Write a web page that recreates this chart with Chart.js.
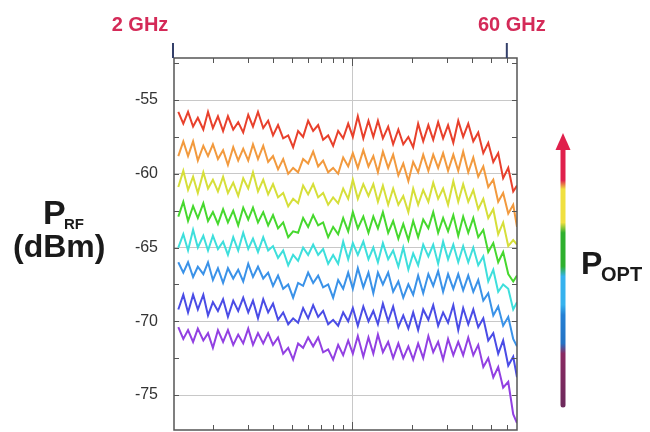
<!DOCTYPE html>
<html>
<head>
<meta charset="utf-8">
<script src="https://cdn.jsdelivr.net/npm/chart.js@4/dist/chart.umd.min.js"></script>
<style>
  body { margin: 0; background: #fff; }
</style>
</head>
<body>
<canvas id="rfChart" width="650" height="432"></canvas>
<script>
// frequency points (GHz), log spaced
const freqGHz = [1.34, 1.42, 1.50, 1.59, 1.68, 1.79, 1.89, 2.00, 2.12, 2.25, 2.38, 2.53, 2.68, 2.84, 3.01,
  3.18, 3.37, 3.58, 3.79, 4.01, 4.25, 4.51, 4.78, 5.06, 5.36, 5.68, 6.02, 6.38, 6.76, 7.16,
  7.59, 8.04, 8.52, 9.03, 9.57, 10.1, 10.7, 11.4, 12.1, 12.8, 13.5, 14.3, 15.2, 16.1, 17.1,
  18.1, 19.2, 20.3, 21.5, 22.8, 24.2, 25.6, 27.1, 28.7, 30.4, 32.3, 34.2, 36.2, 38.4, 40.7,
  43.1, 45.7, 48.4, 51.3, 54.3, 57.5, 61.0, 64.6, 67.5];

// P_RF (dBm) for each optical power, highest first
const rfRed = [-55.8, -56.6, -55.8, -56.8, -56.2, -57.0, -55.8, -56.9, -56.1, -57.1, -56.1, -57.0, -56.5, -57.2, -56.0,
  -56.8, -55.8, -56.9, -56.4, -57.4, -56.7, -57.6, -57.4, -58.2, -57.1, -57.5, -56.4, -57.1, -56.7, -57.7,
  -57.4, -58.1, -57.1, -57.6, -56.6, -57.5, -56.1, -57.6, -56.4, -57.5, -56.4, -57.6, -56.8, -58.0, -57.0,
  -58.0, -57.5, -58.2, -56.6, -57.8, -56.7, -57.7, -56.5, -57.6, -56.7, -57.9, -56.4, -57.5, -56.6, -57.8,
  -57.2, -58.6, -57.9, -59.2, -58.6, -60.3, -59.6, -61.2, -60.8];
const rfOrange = [-58.8, -57.8, -58.8, -57.8, -59.1, -58.1, -58.8, -58.0, -59.0, -58.4, -59.4, -58.2, -59.1, -58.3, -59.1,
  -58.0, -59.0, -58.1, -59.2, -58.8, -59.7, -59.0, -60.0, -59.6, -59.9, -59.0, -59.3, -58.5, -59.5, -59.1,
  -59.9, -59.6, -60.0, -58.9, -59.5, -58.6, -59.6, -58.4, -59.5, -58.8, -59.9, -58.5, -59.6, -58.7, -60.1,
  -59.3, -60.5, -59.2, -59.9, -58.7, -59.8, -58.7, -59.6, -58.6, -59.8, -58.7, -59.8, -58.5, -59.9, -58.9,
  -60.2, -59.5, -60.9, -60.4, -61.9, -61.3, -62.7, -62.1, -63.6];
const rfYellow = [-60.9, -59.8, -61.1, -60.2, -61.3, -59.9, -61.0, -60.4, -61.2, -60.2, -61.3, -60.6, -61.5, -60.3, -61.0,
  -59.9, -61.2, -60.4, -61.4, -60.7, -61.6, -61.3, -62.2, -61.7, -62.0, -60.8, -61.4, -60.7, -61.6, -61.3,
  -62.1, -61.6, -62.0, -61.0, -61.7, -60.4, -61.7, -60.7, -61.5, -60.7, -61.9, -60.8, -62.1, -61.0, -62.1,
  -61.5, -62.6, -61.0, -62.1, -61.1, -61.9, -60.6, -61.7, -61.0, -62.1, -60.5, -61.9, -60.7, -61.9, -61.1,
  -62.4, -61.7, -63.0, -62.4, -64.1, -63.3, -64.9, -64.5, -64.8];
const rfGreen = [-62.9, -61.9, -63.2, -62.2, -63.0, -62.0, -63.2, -62.6, -63.4, -62.4, -63.3, -62.5, -63.5, -62.3, -63.1,
  -62.3, -63.3, -62.6, -63.5, -62.8, -63.7, -63.3, -64.3, -63.9, -64.0, -63.0, -63.6, -62.8, -63.5, -63.3,
  -64.3, -63.6, -64.1, -63.0, -63.9, -62.6, -63.7, -62.9, -64.0, -62.9, -63.7, -62.6, -64.0, -63.2, -64.4,
  -63.4, -64.5, -63.2, -64.3, -63.1, -63.7, -62.6, -64.0, -63.0, -63.9, -62.8, -64.2, -62.9, -64.0, -63.0,
  -64.3, -63.8, -65.3, -64.7, -66.0, -65.3, -66.8, -67.3, -66.9];
const rfCyan = [-65.0, -64.1, -65.2, -63.8, -65.0, -64.2, -65.2, -64.2, -65.1, -64.6, -65.5, -64.3, -65.2, -64.0, -65.1,
  -64.4, -65.3, -64.3, -65.2, -64.9, -65.7, -65.2, -66.2, -65.5, -65.9, -65.0, -65.5, -64.8, -65.5, -65.1,
  -66.1, -65.5, -66.1, -64.6, -65.8, -64.7, -65.5, -64.6, -65.8, -65.0, -66.0, -64.7, -65.8, -65.2, -66.3,
  -65.0, -66.5, -65.4, -66.2, -64.8, -65.6, -64.8, -66.1, -64.6, -65.8, -64.8, -66.0, -64.9, -66.0, -65.0,
  -66.2, -65.6, -67.3, -66.5, -68.0, -67.5, -67.8, -69.2, -68.7];
const rfBlue = [-66.0, -66.7, -66.0, -67.0, -66.3, -66.8, -66.0, -67.2, -66.4, -67.4, -66.4, -67.1, -66.5, -67.3, -66.1,
  -67.0, -66.3, -67.1, -66.7, -67.6, -66.9, -67.8, -67.5, -68.4, -67.4, -67.6, -66.7, -67.4, -66.9, -67.7,
  -67.5, -68.4, -67.2, -67.8, -66.7, -67.8, -66.4, -67.7, -66.7, -68.1, -66.7, -67.5, -66.7, -68.0, -67.3,
  -68.4, -67.5, -68.2, -66.9, -68.1, -66.8, -67.6, -66.6, -68.0, -66.8, -67.8, -66.8, -67.9, -66.9, -68.0,
  -67.2, -68.6, -68.1, -69.6, -69.0, -70.3, -69.7, -71.2, -71.7];
const rfIndigo = [-69.2, -68.2, -69.4, -68.2, -69.2, -68.2, -69.6, -68.7, -69.3, -68.5, -69.7, -68.6, -69.3, -68.4, -69.4,
  -68.6, -69.8, -68.5, -69.4, -68.8, -69.9, -69.4, -70.2, -69.8, -70.1, -69.1, -69.8, -68.9, -69.7, -69.3,
  -70.2, -69.9, -70.3, -69.4, -70.0, -69.1, -70.3, -69.0, -70.0, -69.3, -70.2, -68.8, -70.0, -69.0, -70.4,
  -69.6, -70.5, -69.4, -70.6, -69.2, -69.9, -68.9, -70.3, -69.4, -70.1, -68.9, -70.6, -69.1, -70.2, -69.2,
  -70.4, -69.8, -71.3, -70.8, -72.2, -71.3, -73.0, -72.4, -73.8];
const rfPurple = [-70.4, -71.2, -70.6, -71.4, -70.5, -71.3, -70.8, -71.8, -70.6, -71.4, -70.6, -71.6, -70.9, -71.5, -70.5,
  -71.6, -70.8, -71.5, -70.8, -71.6, -71.1, -72.2, -71.8, -72.6, -71.5, -71.8, -71.1, -71.7, -71.1, -72.1,
  -71.9, -72.6, -71.6, -72.3, -71.3, -72.2, -71.0, -72.4, -71.1, -72.2, -70.9, -72.1, -71.4, -72.5, -71.5,
  -72.5, -71.7, -72.6, -71.5, -72.5, -71.0, -72.1, -71.4, -72.6, -71.2, -72.3, -71.4, -72.3, -71.1, -72.3,
  -71.6, -73.1, -72.5, -73.8, -73.1, -74.5, -74.1, -76.3, -76.9];

const traceColors = ['#e8402c', '#f29a3e', '#d6df3a', '#46d82e', '#3edfdc', '#3a92e8', '#4a4ce6', '#9240e2'];
const traces = [rfRed, rfOrange, rfYellow, rfGreen, rfCyan, rfBlue, rfIndigo, rfPurple];

const yTicks = [-75, -70, -65, -60, -55];
const yMinorTicks = [-75, -72.5, -70, -67.5, -65, -62.5, -60, -57.5, -55, -52.5];
const xGridTicks = [10];
const xMinorTicks = [2, 3, 4, 5, 6, 7, 8, 9, 10, 20, 30, 40, 50, 60];

const txtFont = 'Liberation Sans, Arial, sans-serif';

const seg = (ctx, x1, y1, x2, y2) => { ctx.beginPath(); ctx.moveTo(x1, y1); ctx.lineTo(x2, y2); ctx.stroke(); };

const framePlugin = {
  id: 'frame',
  beforeDatasetsDraw(chart) {
    // vertical grid line(s) of the log frequency axis
    const { ctx, chartArea: a, scales: { x } } = chart;
    ctx.save();
    ctx.strokeStyle = '#c8c8c8';
    ctx.lineWidth = 1;
    xGridTicks.forEach(v => {
      const px = Math.round(x.getPixelForValue(v)) + 0.5;
      seg(ctx, px, a.top, px, a.bottom);
    });
    ctx.restore();
  },
  afterDraw(chart) {
    const { ctx, chartArea: a, scales: { x, y } } = chart;
    ctx.save();

    // inward tick marks
    ctx.strokeStyle = '#555';
    ctx.lineWidth = 1;
    xMinorTicks.forEach(v => {
      const px = Math.round(x.getPixelForValue(v)) + 0.5;
      const len = v === 10 ? 8 : 5;
      seg(ctx, px, a.top, px, a.top + len);
      seg(ctx, px, a.bottom, px, a.bottom - len);
    });
    yMinorTicks.forEach(v => {
      const py = Math.round(y.getPixelForValue(v)) + 0.5;
      seg(ctx, a.left, py, a.left + 5, py);
      seg(ctx, a.right, py, a.right - 5, py);
    });

    // frame
    ctx.strokeStyle = '#555';
    ctx.lineWidth = 1.5;
    ctx.strokeRect(a.left, a.top, a.right - a.left, a.bottom - a.top);

    // 2 GHz / 60 GHz markers
    ctx.strokeStyle = '#34406a';
    ctx.lineWidth = 2;
    const x2 = a.left - 1;
    const x60 = x.getPixelForValue(60);
    seg(ctx, x2, a.top - 15, x2, a.top);
    seg(ctx, x60, a.top - 15, x60, a.top);
    ctx.fillStyle = '#d42a58';
    ctx.font = 'bold 20px ' + txtFont;
    ctx.textAlign = 'center';
    ctx.textBaseline = 'alphabetic';
    ctx.fillText('2 GHz', x2 - 33, 31);
    ctx.fillText('60 GHz', x60 + 5, 31);

    // y title
    ctx.fillStyle = '#1a1a1a';
    ctx.textAlign = 'left';
    ctx.font = 'bold 34px ' + txtFont;
    ctx.fillText('P', 43, 224);
    ctx.font = 'bold 15px ' + txtFont;
    ctx.fillText('RF', 64, 229);
    ctx.font = 'bold 32px ' + txtFont;
    ctx.fillText('(dBm)', 13, 257);

    // optical power arrow
    const bx = 563, bTop = 148, bBot = 405;
    const g = ctx.createLinearGradient(0, bBot, 0, bTop);
    g.addColorStop(0, '#6e2a5c');
    g.addColorStop(0.20, '#8a2a62');
    g.addColorStop(0.24, '#2472c4');
    g.addColorStop(0.35, '#2480d4');
    g.addColorStop(0.39, '#36b2ee');
    g.addColorStop(0.50, '#36b2ee');
    g.addColorStop(0.54, '#2eb02e');
    g.addColorStop(0.67, '#2eb02e');
    g.addColorStop(0.71, '#f0e040');
    g.addColorStop(0.84, '#f0e040');
    g.addColorStop(0.875, '#e0204c');
    g.addColorStop(1, '#e0204c');
    ctx.strokeStyle = g;
    ctx.lineWidth = 5;
    ctx.lineCap = 'round';
    seg(ctx, bx, bBot, bx, bTop);
    ctx.fillStyle = '#e0204c';
    ctx.beginPath();
    ctx.moveTo(bx, 133);
    ctx.lineTo(bx - 7.5, 150);
    ctx.lineTo(bx + 7.5, 150);
    ctx.closePath();
    ctx.fill();

    ctx.fillStyle = '#1a1a1a';
    ctx.font = 'bold 32px ' + txtFont;
    ctx.fillText('P', 581, 274);
    ctx.font = 'bold 20px ' + txtFont;
    ctx.fillText('OPT', 601, 281);
    ctx.restore();
  }
};

const canvasElement = document.getElementById('rfChart');
const config = {
  type: 'line',
  data: {
    datasets: traces.map((t, k) => ({
      data: t.map((v, i) => ({ x: freqGHz[i], y: v })),
      borderColor: traceColors[k],
      borderWidth: 2,
      pointRadius: 0,
      tension: 0,
      fill: false
    }))
  },
  options: {
    responsive: false,
    animation: false,
    layout: { padding: { top: 58, right: 133, bottom: 2, left: 0 } },
    plugins: { legend: { display: false }, tooltip: { enabled: false } },
    scales: {
      x: {
        type: 'logarithmic',
        display: false,
        min: 1.275,
        max: 67.5
      },
      y: {
        min: -77.37,
        max: -52.15,
        bounds: 'data',
        // small lineHeight keeps the label boxes from padding the plot bottom
        ticks: { color: '#333', font: { family: txtFont, size: 16, lineHeight: 0.2 }, padding: 0 },
        grid: { color: '#c8c8c8', drawTicks: true, tickLength: 16, tickColor: 'rgba(0,0,0,0)' },
        border: { display: false },
        afterBuildTicks: s => { s.ticks = yTicks.map(v => ({ value: v })); },
        afterFit: s => { s.width = 174; }
      }
    }
  },
  plugins: [framePlugin]
};
const rfChart = new Chart(canvasElement, config);
</script>
</body>
</html>
